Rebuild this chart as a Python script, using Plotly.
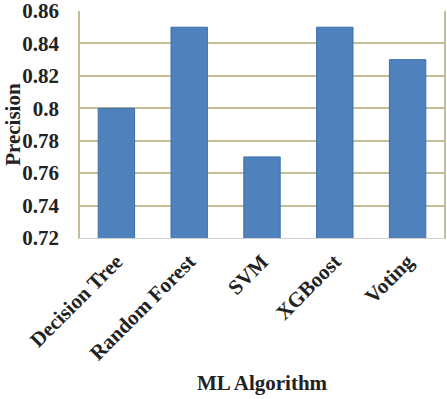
import plotly.graph_objects as go

categories = ["Decision Tree", "Random Forest", "SVM", "XGBoost", "Voting"]
precision = [0.80, 0.85, 0.77, 0.85, 0.83]
y_ticks = [0.72, 0.74, 0.76, 0.78, 0.8, 0.82, 0.84, 0.86]
y_tick_text = ["0.72", "0.74", "0.76", "0.78", "0.8", "0.82", "0.84", "0.86"]

font_family = "Liberation Serif"
grid_color = "#C4BD97"
text_color = "#222222"

fig = go.Figure(go.Bar(
    x=categories, y=precision, width=0.5,
    marker=dict(color="#4F81BD", line=dict(color="#3C6EAD", width=1)),
))
fig.update_layout(
    width=447, height=399,
    margin=dict(l=80, r=3, t=11, b=161),
    plot_bgcolor="white", paper_bgcolor="white",
    showlegend=False,
    font=dict(family=font_family, color=text_color),
    xaxis=dict(
        tickangle=-45, tickfont=dict(family=font_family, size=21, color=text_color),
        tickvals=categories, ticktext=["<b>%s</b>" % c for c in categories],
        showline=True, linecolor="#D0D0D0", linewidth=1, mirror=False,
        ticklabelstandoff=2, automargin=False,
    ),
    yaxis=dict(
        range=[0.72, 0.86], tickvals=y_ticks, ticktext=["<b>%s</b>" % t for t in y_tick_text],
        tickfont=dict(family=font_family, size=21, color=text_color),
        showgrid=True, gridcolor=grid_color, gridwidth=1.5,
        showline=True, linecolor=grid_color, linewidth=1.5, mirror=True,
        zeroline=False, automargin=False, ticklabeloverflow="allow",
        ticklabelstandoff=15,
    ),
    annotations=[
        dict(text="<b>ML Algorithm</b>", xref="paper", yref="paper", x=0.5, y=-0.64,
             xanchor="center", yanchor="middle", showarrow=False,
             font=dict(family=font_family, size=21, color=text_color)),
        dict(text="<b>Precision</b>", xref="paper", yref="paper", x=-0.186, y=0.5,
             xanchor="center", yanchor="middle", showarrow=False, textangle=-90,
             font=dict(family=font_family, size=21, color=text_color)),
    ],
)
fig.write_html("out.html", config={"displayModeBar": False},
               post_script="document.body.style.margin='0';document.body.style.overflow='hidden';")
